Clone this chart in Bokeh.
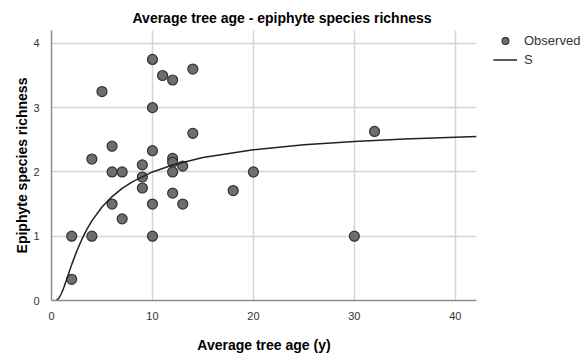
from bokeh.plotting import figure
from bokeh.models import Range1d, Legend, LegendItem, FixedTicker
from bokeh.embed import file_html
from bokeh.resources import INLINE

# Observed data (average tree age in years, epiphyte species richness)
age = [2, 2, 4, 4, 5, 6, 6, 6, 7, 7, 9, 9, 9, 10, 10, 10, 10, 10, 11, 12,
       12, 12, 12, 12, 13, 13, 14, 14, 18, 20, 30, 32]
richness = [0.33, 1.0, 1.0, 2.2, 3.25, 2.4, 2.0, 1.5, 2.0, 1.27, 2.11, 1.92,
            1.75, 3.75, 3.0, 2.33, 1.5, 1.0, 3.5, 3.43, 2.21, 2.15, 2.0, 1.67,
            2.09, 1.5, 3.6, 2.6, 1.71, 2.0, 1.0, 2.63]

# Fitted S curve
curve_x = [0.5, 0.75, 1, 1.25, 1.5, 1.75, 2, 2.5, 3, 3.5, 4, 5, 6, 7, 8, 10,
           12, 15, 20, 25, 30, 35, 42.1]
curve_y = [0.005, 0.039, 0.113, 0.214, 0.328, 0.444, 0.558, 0.768, 0.950,
           1.106, 1.239, 1.454, 1.616, 1.744, 1.846, 2.0, 2.109, 2.224, 2.345,
           2.422, 2.474, 2.512, 2.550]

x_ticks = [0, 10, 20, 30, 40]
y_ticks = [0, 1, 2, 3, 4]

FONT = "Liberation Sans"

p = figure(frame_width=425, frame_height=270, output_backend="svg",
           toolbar_location=None,
           x_range=Range1d(0, 42.1), y_range=Range1d(0, 4.2),
           min_border_left=51, min_border_right=109, min_border_top=30,
           min_border_bottom=58)

p.title.text = "Average tree age - epiphyte species richness"
p.title.align = "left"
p.title.offset = 81
p.title.text_font = FONT
p.title.text_font_size = "14px"
p.title.text_font_style = "bold"
p.title.text_color = "#000000"

p.outline_line_color = None
p.background_fill_color = "white"
p.border_fill_color = "white"

for ax, ticks in ((p.xaxis, x_ticks), (p.yaxis, y_ticks)):
    ax.ticker = FixedTicker(ticks=ticks)
    ax.major_tick_line_color = None
    ax.minor_tick_line_color = None
    ax.axis_line_color = "#8c8c8c"
    ax.axis_line_width = 1.5
    ax.major_label_text_font = FONT
    ax.major_label_text_font_size = "11px"
    ax.major_label_text_color = "#333333"
    ax.axis_label_text_font = FONT
    ax.axis_label_text_font_size = "14px"
    ax.axis_label_text_font_style = "bold"
    ax.axis_label_text_color = "#000000"

p.xaxis.axis_label = "Average tree age (y)"
p.yaxis.axis_label = "Epiphyte species richness"
p.xaxis.axis_label_standoff = 14
p.yaxis.axis_label_standoff = 0
p.xaxis.major_label_standoff = 5
p.yaxis.major_label_standoff = 6

p.xgrid.ticker = FixedTicker(ticks=x_ticks)
p.ygrid.ticker = FixedTicker(ticks=y_ticks)
for g in (p.xgrid, p.ygrid):
    g.grid_line_color = "#d4d4d4"
    g.grid_line_width = 1.5

r_pts = p.scatter(age, richness, size=10, fill_color="#6e6e6e",
                  line_color="#333333", line_width=1.2)
r_line = p.line(curve_x, curve_y, line_color="#222222", line_width=1.5)

legend = Legend(items=[LegendItem(label="Observed", renderers=[r_pts]),
                       LegendItem(label="S", renderers=[r_line])],
                location=(17, 232), border_line_color=None,
                background_fill_alpha=0,
                label_text_font=FONT, label_text_font_size="13px",
                label_text_color="#333333",
                glyph_width=24, glyph_height=17, label_standoff=7,
                spacing=2, padding=0, margin=0, label_height=17)
p.add_layout(legend, "right")

open("out.html", "w").write(file_html(p, INLINE))
